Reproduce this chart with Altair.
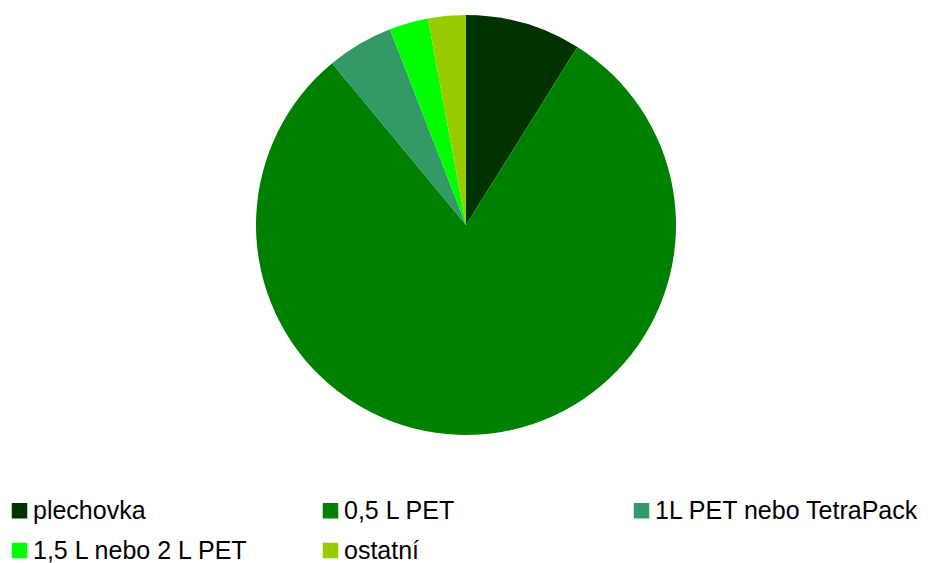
import altair as alt
import pandas as pd

categories = ["plechovka", "0,5 L PET", "1L PET nebo TetraPack", "1,5 L nebo 2 L PET", "ostatní"]
values = [8.9, 80.1, 5.1, 3.0, 2.9]
colors = ["#003300", "#008000", "#339966", "#00ff00", "#99cc00"]

df = pd.DataFrame({"kategorie": categories, "hodnota": values, "poradi": list(range(len(categories)))})

chart = alt.Chart(df).mark_arc(radius=210, stroke=None).encode(
    theta=alt.Theta("hodnota:Q", stack=True),
    order=alt.Order("poradi:Q"),
    x=alt.value(466),
    y=alt.value(225),
    color=alt.Color(
        "kategorie:N",
        sort=categories,
        scale=alt.Scale(domain=categories, range=colors),
        legend=alt.Legend(
            title=None,
            orient="none",
            direction="horizontal",
            legendX=7,
            legendY=498,
            columns=3,
            gridAlign="all",
            columnPadding=20,
            rowPadding=14,
            symbolType="square",
            symbolSize=240,
            symbolStrokeWidth=0,
            symbolOpacity=1,
            labelFontSize=25,
            labelFont="Liberation Sans",
            labelColor="#000000",
            labelOffset=1,
            labelLimit=400,
            padding=0,
        ),
    ),
).properties(
    width=933,
    height=563,
    autosize=alt.AutoSizeParams(type="none"),
    padding=0,
).configure_view(stroke=None)

chart.save("out.html", embed_options={"renderer": "svg", "actions": False})
